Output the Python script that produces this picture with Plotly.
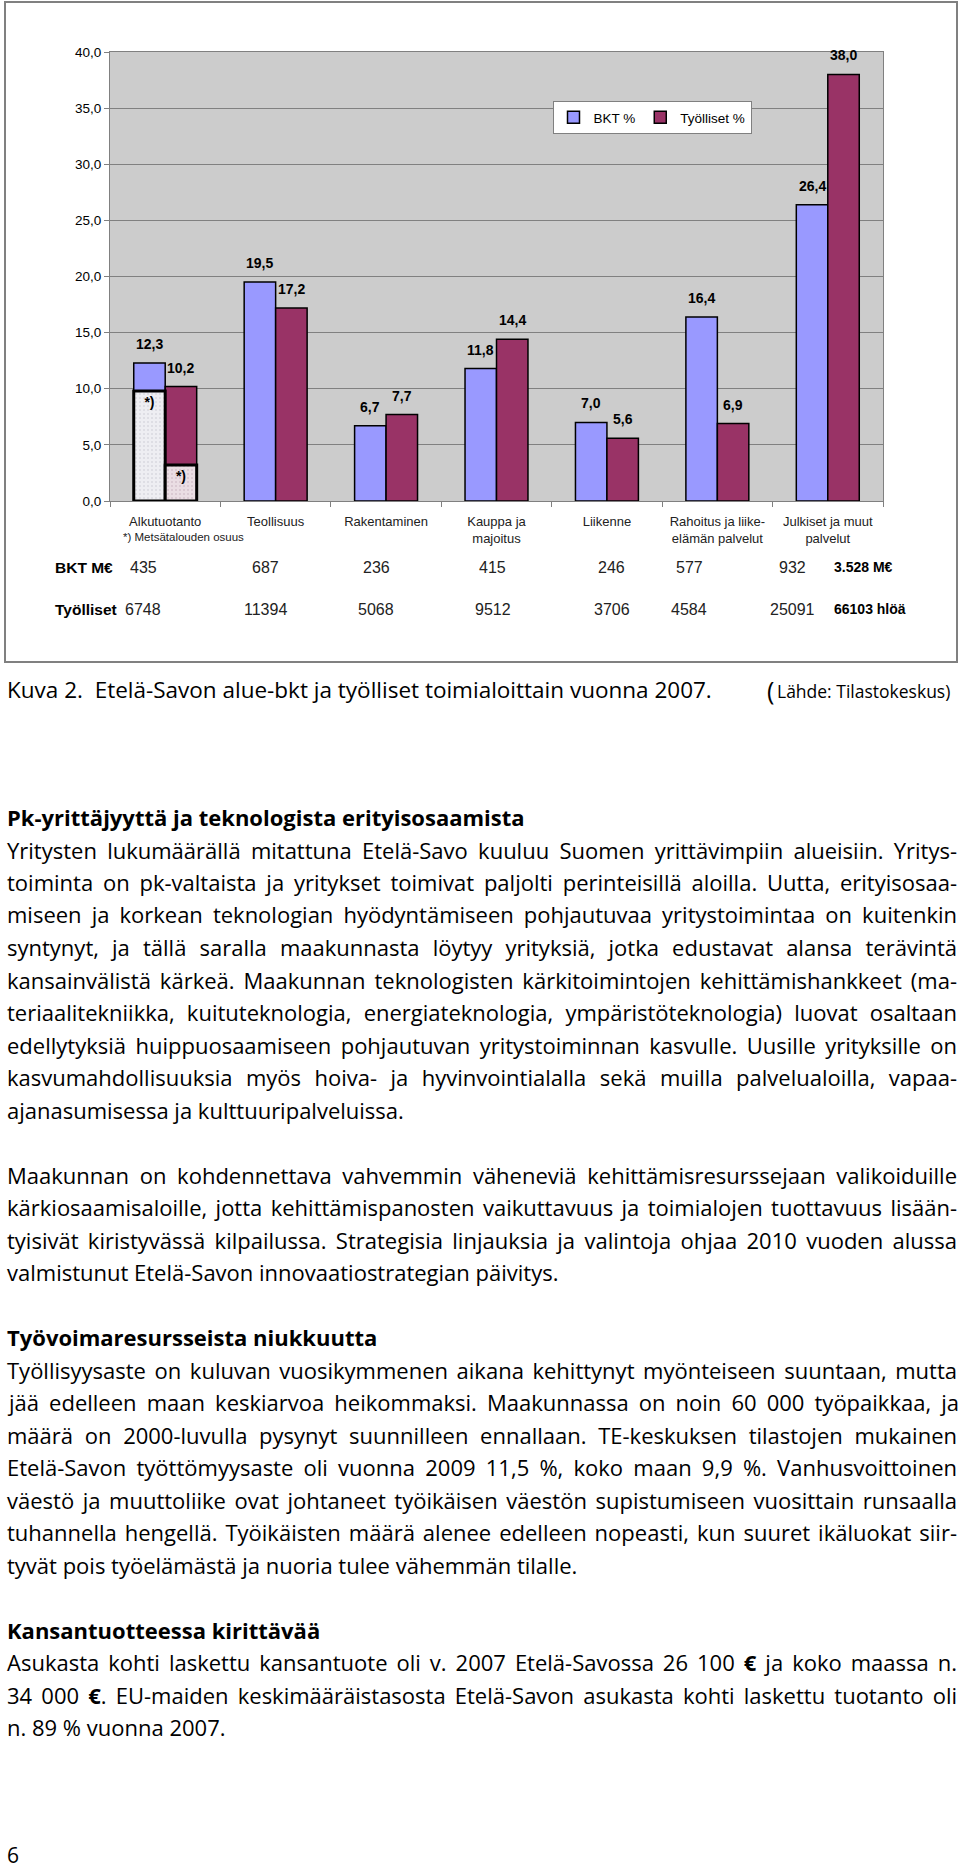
import json
import re

import plotly.graph_objects as go

# --- data ---
toimialat = [
    "Alkutuotanto", "Teollisuus", "Rakentaminen", "Kauppa ja<br>majoitus",
    "Liikenne", "Rahoitus ja liike-<br>elämän palvelut", "Julkiset ja muut<br>palvelut",
]
bkt_pct = [12.3, 19.5, 6.7, 11.8, 7.0, 16.4, 26.4]
tyolliset_pct = [10.2, 17.2, 7.7, 14.4, 5.6, 6.9, 38.0]
# metsätalouden osuus alkutuotannosta (only first category)
metsa_bkt_pct = [9.8, None, None, None, None, None, None]
metsa_tyo_pct = [3.2, None, None, None, None, None, None]

bkt_meur = ["435", "687", "236", "415", "246", "577", "932"]
tyolliset_lkm = ["6748", "11394", "5068", "9512", "3706", "4584", "25091"]
bkt_total = "3.528 M€"
tyolliset_total = "66103 hlöä"

caption = "Kuva 2.  Etelä-Savon alue-bkt ja työlliset toimialoittain vuonna 2007."
source = "Lähde: Tilastokeskus)"

# body text, one entry per printed line; (text, kind) kind: h=heading, j=justified, l=last line
body = [
    ("Pk-yrittäjyyttä ja teknologista erityisosaamista", "h"),
    ("Yritysten lukumäärällä mitattuna Etelä-Savo kuuluu Suomen yrittävimpiin alueisiin. Yritys-", "j"),
    ("toiminta on pk-valtaista ja yritykset toimivat paljolti perinteisillä aloilla. Uutta, erityisosaa-", "j"),
    ("miseen ja korkean teknologian hyödyntämiseen pohjautuvaa yritystoimintaa on kuitenkin", "j"),
    ("syntynyt, ja tällä saralla maakunnasta löytyy yrityksiä, jotka edustavat alansa terävintä", "j"),
    ("kansainvälistä kärkeä. Maakunnan teknologisten kärkitoimintojen kehittämishankkeet (ma-", "j"),
    ("teriaalitekniikka, kuituteknologia, energiateknologia, ympäristöteknologia) luovat osaltaan", "j"),
    ("edellytyksiä huippuosaamiseen pohjautuvan yritystoiminnan kasvulle. Uusille yrityksille on", "j"),
    ("kasvumahdollisuuksia myös hoiva- ja hyvinvointialalla sekä muilla palvelualoilla, vapaa-", "j"),
    ("ajanasumisessa ja kulttuuripalveluissa.", "l"),
    None,
    ("Maakunnan on kohdennettava vahvemmin väheneviä kehittämisresurssejaan valikoiduille", "j"),
    ("kärkiosaamisaloille, jotta kehittämispanosten vaikuttavuus ja toimialojen tuottavuus lisään-", "j"),
    ("tyisivät kiristyvässä kilpailussa. Strategisia linjauksia ja valintoja ohjaa 2010 vuoden alussa", "j"),
    ("valmistunut Etelä-Savon innovaatiostrategian päivitys.", "l"),
    None,
    ("Työvoimaresursseista niukkuutta", "h"),
    ("Työllisyysaste on kuluvan vuosikymmenen aikana kehittynyt myönteiseen suuntaan, mutta", "j"),
    ("jää edelleen maan keskiarvoa heikommaksi. Maakunnassa on noin 60 000 työpaikkaa, ja", "j"),
    ("määrä on 2000-luvulla pysynyt suunnilleen ennallaan. TE-keskuksen tilastojen mukainen", "j"),
    ("Etelä-Savon työttömyysaste oli vuonna 2009 11,5 %, koko maan 9,9 %. Vanhusvoittoinen", "j"),
    ("väestö ja muuttoliike ovat johtaneet työikäisen väestön supistumiseen vuosittain runsaalla", "j"),
    ("tuhannella hengellä. Työikäisten määrä alenee edelleen nopeasti, kun suuret ikäluokat siir-", "j"),
    ("tyvät pois työelämästä ja nuoria tulee vähemmän tilalle.", "l"),
    None,
    ("Kansantuotteessa kirittävää", "h"),
    ("Asukasta kohti laskettu kansantuote oli v. 2007 Etelä-Savossa 26 100 <b>€</b> ja koko maassa n.", "j"),
    ("34 000 <b>€</b>. EU-maiden keskimääräistasosta Etelä-Savon asukasta kohti laskettu tuotanto oli", "j"),
    ("n. 89 % vuonna 2007.", "l"),
]
page_no = "6"

# --- page geometry (pixels of the 960 x 1874 page) ---
W, H = 960, 1874


def px(x):
    return x / W


def py(y):
    return 1 - y / H


ARIAL = "Liberation Sans, Arial, sans-serif"
BODY = "Open Sans, Noto Sans, sans-serif"
BLUE = "#9999ff"
PLUM = "#993366"
BARGAP = 0.43
PLOT_L, PLOT_R, PLOT_T, PLOT_B = 110, 883, 52, 501
TEXT_L, TEXT_W = 5, 950
# hand-placed table columns sit a little left of the category centres
col_nudge = [-22, -10, -10, -4, 5, -28, -35]


def fi(v):
    return f"{v:.1f}".replace(".", ",")


fig = go.Figure()

fig.add_trace(go.Bar(
    x=toimialat, y=bkt_pct, name="BKT %", offsetgroup="bkt",
    marker=dict(color=BLUE, line=dict(color="black", width=1.5)),
))
fig.add_trace(go.Bar(
    x=toimialat, y=tyolliset_pct, name="Työlliset %", offsetgroup="tyo",
    marker=dict(color=PLUM, line=dict(color="black", width=1.5)),
))
fig.add_trace(go.Bar(
    x=toimialat, y=metsa_bkt_pct, offsetgroup="bkt", showlegend=False,
    text=["*)" if v else "" for v in metsa_bkt_pct],
    textposition="inside", insidetextanchor="end", constraintext="none",
    textfont=dict(family=ARIAL, size=14, color="black", weight="bold"),
    marker=dict(color="#eeeef2", line=dict(color="black", width=3),
                pattern=dict(shape=".", fgcolor="#c4c4cc", bgcolor="#eeeef2", size=4, solidity=0.2)),
))
fig.add_trace(go.Bar(
    x=toimialat, y=metsa_tyo_pct, offsetgroup="tyo", showlegend=False,
    text=["*)" if v else "" for v in metsa_tyo_pct],
    textposition="inside", insidetextanchor="end", constraintext="none",
    textfont=dict(family=ARIAL, size=14, color="black", weight="bold"),
    marker=dict(color="#eadde3", line=dict(color="black", width=3),
                pattern=dict(shape=".", fgcolor="#c0a8b4", bgcolor="#eadde3", size=4, solidity=0.2)),
))

annotations = []

# value labels above the bars
cat_px = (PLOT_R - PLOT_L) / len(toimialat)
slot_shift = cat_px * (1 - BARGAP) / 4
for series, sgn in ((bkt_pct, -1), (tyolliset_pct, 1)):
    for cat, v in zip(toimialat, series):
        annotations.append(dict(
            x=cat, y=v, xref="x", yref="y", text=fi(v), showarrow=False,
            xshift=sgn * slot_shift, yshift=19, yanchor="middle",
            font=dict(family=ARIAL, size=14, color="black", weight="bold"),
        ))

annotations.append(dict(
    x=px(183), y=py(537), xref="paper", yref="paper", text="*) Metsätalouden osuus",
    showarrow=False, xanchor="center", yanchor="middle",
    font=dict(family=ARIAL, size=11.5, color="#222"),
))

# table rows under the chart
for label, vals, total, ypix in (("BKT M€", bkt_meur, bkt_total, 567),
                                 ("Työlliset", tyolliset_lkm, tyolliset_total, 609)):
    annotations.append(dict(
        x=px(53), y=py(ypix), xref="paper", yref="paper", text=f"<b>{label}</b>",
        showarrow=False, xanchor="left", yanchor="middle",
        font=dict(family=ARIAL, size=15.5, color="black"),
    ))
    for cat, v, dx in zip(toimialat, vals, col_nudge):
        annotations.append(dict(
            x=cat, y=py(ypix), xref="x", yref="paper", text=v, xshift=dx,
            showarrow=False, xanchor="center", yanchor="middle",
            font=dict(family=ARIAL, size=16, color="#222"),
        ))
    annotations.append(dict(
        x=px(832), y=py(ypix), xref="paper", yref="paper", text=f"<b>{total}</b>",
        showarrow=False, xanchor="left", yanchor="middle",
        font=dict(family=ARIAL, size=14, color="black"),
    ))

# caption
annotations.append(dict(
    x=px(TEXT_L), y=py(690), xref="paper", yref="paper", text=caption,
    showarrow=False, xanchor="left", yanchor="middle",
    font=dict(family=BODY, size=22.5, color="black"),
))
annotations.append(dict(
    x=px(765), y=py(690), xref="paper", yref="paper", text="(",
    showarrow=False, xanchor="left", yanchor="middle",
    font=dict(family=BODY, size=25, color="black"),
))
annotations.append(dict(
    x=px(775), y=py(691), xref="paper", yref="paper", text=source,
    showarrow=False, xanchor="left", yanchor="middle",
    font=dict(family=BODY, size=17.5, color="black"),
))

# body text
y0, pitch = 817, 32.5
justify = []
for i, item in enumerate(body):
    if item is None:
        continue
    txt, kind = item
    if kind == "j":
        justify.append(re.sub(r"<[^>]+>", "", txt))
    annotations.append(dict(
        x=px(TEXT_L), y=py(y0 + i * pitch), xref="paper", yref="paper",
        text=f"<b>{txt}</b>" if kind == "h" else txt,
        showarrow=False, xanchor="left", yanchor="middle", align="left",
        font=dict(family=BODY, size=22, color="black"),
    ))

annotations.append(dict(
    x=px(TEXT_L), y=py(1855), xref="paper", yref="paper", text=page_no,
    showarrow=False, xanchor="left", yanchor="middle",
    font=dict(family=BODY, size=21, color="black"),
))

fig.update_layout(
    width=W, height=H, autosize=False,
    margin=dict(l=0, r=0, t=0, b=0, autoexpand=False),
    paper_bgcolor="white", plot_bgcolor="#cccccc",
    barmode="group", bargap=BARGAP, bargroupgap=0,
    separators=", ",
    font=dict(family=ARIAL, color="black"),
    legend=dict(
        orientation="h", x=px(652), y=py(101), xanchor="center", yanchor="top",
        bgcolor="white", bordercolor="#808080", borderwidth=1,
        font=dict(family=ARIAL, size=13.5, color="black"),
        itemwidth=30, tracegroupgap=0,
    ),
    xaxis=dict(
        domain=[px(PLOT_L), px(PLOT_R)], anchor="y",
        showline=True, linecolor="#808080", linewidth=1, mirror=True,
        ticks="outside", tickson="boundaries", ticklen=5, tickcolor="#808080",
        ticklabelstandoff=8,
        tickfont=dict(family=ARIAL, size=13, color="#222"),
        showgrid=False,
    ),
    yaxis=dict(
        domain=[py(PLOT_B), py(PLOT_T)], anchor="x",
        range=[0, 40], dtick=5, tickformat=".1f",
        showline=True, linecolor="#808080", linewidth=1, mirror=True,
        ticks="outside", ticklen=5, tickcolor="#808080",
        gridcolor="#808080", gridwidth=1, zeroline=False,
        tickfont=dict(family=ARIAL, size=13.5, color="black"),
    ),
    shapes=[dict(
        type="rect", xref="paper", yref="paper",
        x0=px(5), x1=px(957), y0=py(662), y1=py(2),
        line=dict(color="#808080", width=2), fillcolor="rgba(0,0,0,0)", layer="below",
    )],
    annotations=annotations,
)

# drop the default 8px page margin, and justify the body lines like the printed page
post = """
document.body.style.margin = '0';
var J = new Set(%s);
document.querySelectorAll('g.annotation text').forEach(function (t) {
    if (!J.has(t.textContent)) return;
    var n = (t.textContent.match(/ /g) || []).length;
    var w = t.getComputedTextLength();
    if (n > 0 && w < %d) t.style.wordSpacing = ((%d - w) / n) + 'px';
});
""" % (json.dumps(justify, ensure_ascii=False), TEXT_W, TEXT_W)

fig.write_html("out.html", config={"displayModeBar": False}, post_script=post)
